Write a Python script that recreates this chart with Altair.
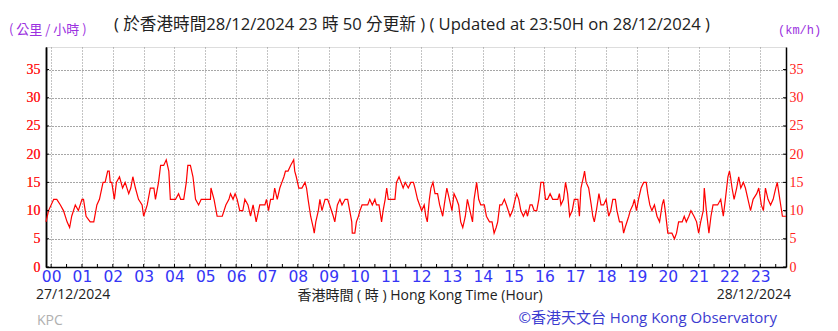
import altair as alt
import pandas as pd

# minutes from 00:00 on 28/12/2024 (negative = 27/12), 10-min mean wind speed km/h
minutes = [
    -10, -5, 5, 11, 18, 24, 31, 36, 40, 47, 53, 60, 63, 68, 76, 83, 89, 94, 101, 105,
    110, 113, 115, 118, 123, 127, 133, 139, 144, 151, 155, 159, 164, 170, 177, 180, 187, 193, 200, 203,
    209, 213, 219, 224, 229, 232, 242, 248, 252, 258, 263, 266, 271, 276, 281, 287, 292, 300, 310, 311,
    317, 323, 333, 340, 346, 349,
    354, 358, 362, 367, 373, 377, 383, 388, 393, 399, 406, 409, 416, 419, 423, 427, 432, 435, 440, 445,
    449, 453, 456, 461, 466, 472, 474, 477, 482, 488, 494, 497, 500, 505, 510, 512, 515, 520, 523, 527,
    533, 538, 542, 549, 552, 557, 562, 566, 572, 577, 581, 585, 586, 591, 594, 598, 601, 605, 611, 616,
    620, 625, 630, 633, 638, 643, 646, 650, 653, 656, 663, 669, 672, 677, 681, 685, 689, 695, 700, 705,
    708, 713,
    717, 721, 726, 729, 732, 736, 739, 743, 747, 752, 756, 762, 765, 770, 775, 780, 784, 789, 793, 797,
    801, 806, 810, 815, 820, 823, 828, 832, 836, 843, 847, 853, 858, 862, 866, 869, 873, 877, 882, 886,
    893, 898, 903, 906, 910, 914, 919, 924, 927, 932, 936, 940, 945, 949, 953, 958, 962, 966, 971, 976,
    981, 986, 989, 992, 997, 1001, 1005, 1009, 1014, 1018, 1025, 1028, 1031, 1036, 1038, 1041, 1046, 1051, 1054, 1057,
    1061, 1066,
    1070, 1075, 1080, 1085, 1089, 1093, 1098, 1101, 1106, 1111, 1114, 1117, 1124, 1127, 1132, 1135, 1139, 1143, 1148, 1153,
    1158, 1161, 1165, 1169, 1174, 1179, 1184, 1189, 1192, 1195, 1200, 1208, 1213, 1217, 1221, 1228, 1232, 1236, 1241, 1245,
    1251, 1256, 1260, 1264, 1269, 1271, 1275, 1280, 1284, 1288, 1293, 1297, 1303, 1308, 1312, 1317, 1320, 1322, 1325, 1329,
    1334, 1338, 1342, 1347, 1351, 1356, 1361, 1366, 1373, 1377, 1382, 1386, 1390, 1395, 1400, 1405, 1410, 1413, 1418, 1423,
    1430,
]
speeds = [
    8, 10, 12, 12, 11, 10, 8, 7, 9, 11, 10, 12, 12, 9, 8, 8, 11, 12, 15, 15,
    17, 17, 15, 15, 12, 15, 16, 14, 15, 13, 14, 16, 14, 12, 11, 9, 11, 14, 14, 12,
    15, 18, 18, 19, 17, 12, 12, 13, 12, 12, 15, 18, 18, 16, 12, 11, 12, 12, 12, 14,
    12, 9, 9, 11, 12, 13,
    12, 13, 12, 10, 10, 12, 11, 9, 11, 8, 11, 11, 11, 12, 10, 12, 12, 14, 12, 14,
    15, 16, 17, 17, 18, 19, 17, 16, 14, 14, 15, 14, 12, 9, 7, 6, 8, 10, 12, 10,
    12, 12, 11, 9, 8, 11, 12, 11, 12, 12, 10, 8, 6, 6, 8, 9, 10, 11, 11, 11,
    12, 11, 12, 11, 11, 8, 10, 12, 14, 12, 12, 12, 15, 16, 15, 14, 15, 14, 15, 15,
    14, 12,
    11, 10, 11, 9, 8, 12, 14, 15, 13, 13, 11, 9, 11, 14, 12, 10, 13, 12, 11, 8,
    7, 9, 12, 10, 8, 12, 15, 12, 11, 11, 9, 8, 8, 6, 7, 8, 11, 11, 12, 11,
    9, 10, 12, 13, 12, 10, 9, 10, 9, 11, 11, 10, 10, 12, 15, 15, 12, 12, 13, 12,
    12, 12, 13, 11, 12, 15, 13, 9, 10, 12, 12, 9, 14, 16, 17, 15, 14, 11, 9, 8,
    10, 13,
    11, 11, 12, 9, 10, 12, 12, 10, 8, 8, 6, 7, 9, 10, 11, 12, 10, 12, 14, 15,
    15, 13, 11, 10, 11, 9, 8, 11, 12, 10, 6, 6, 5, 6, 8, 8, 9, 8, 9, 10,
    9, 8, 6, 8, 10, 14, 10, 6, 9, 11, 11, 11, 12, 9, 12, 16, 17, 16, 14, 12,
    14, 16, 14, 15, 14, 12, 10, 12, 13, 14, 11, 10, 14, 12, 11, 12, 14, 15, 12, 9,
    9,
]
hour_ticks = list(range(0, 1440, 60))
half_ticks = list(range(0, 1440, 30))
y_ticks = [0, 5, 10, 15, 20, 25, 30, 35]

W, H = 740, 220
df = pd.DataFrame({"t": minutes, "v": speeds})
xs = alt.Scale(domain=[-10, 1430], nice=False, zero=False)
ys = alt.Scale(domain=[0, 39], nice=False)

hour_label = "(datum.value/60 < 10 ? '0' : '') + (datum.value/60)"
grid_dash = [1, 2]

x_axis = alt.Axis(
    values=hour_ticks, labelExpr=hour_label, title=None, orient="bottom",
    labelColor="#3535f5", labelFont="DejaVu Sans", labelFontSize=15.5, labelPadding=2,
    tickSize=0, domainColor="#000000", domainWidth=1.5,
    grid=True, gridColor="#888888", gridDash=grid_dash, gridWidth=1)
y_left = alt.Axis(
    values=y_ticks, title=None, orient="left",
    labelColor="#ff2020", labelFont="Liberation Sans Narrow", labelFontSize=14, labelPadding=6,
    tickSize=0, domainColor="#000000", domainWidth=1.5,
    grid=True, gridColor="#888888", gridDash=grid_dash, gridWidth=1)
y_right = alt.Axis(
    values=y_ticks, title=None, orient="right",
    labelColor="#ff2020", labelFont="Liberation Sans Narrow", labelFontSize=14, labelPadding=3,
    tickSize=0, domainColor="#000000", domainWidth=1.5, grid=False)

line = alt.Chart(df).mark_line(color="#ff0000", strokeWidth=1.2, interpolate="linear").encode(
    x=alt.X("t:Q", scale=xs, axis=x_axis),
    y=alt.Y("v:Q", scale=ys, axis=y_left),
)

ydf = pd.DataFrame({"yv": y_ticks})
right_ticks = alt.Chart(ydf).mark_rule(color="#000000").encode(
    y=alt.Y("yv:Q", scale=ys, axis=y_right),
    x=alt.value(W - 3), x2=alt.value(W),
)
left_ticks = alt.Chart(ydf).mark_rule(color="#000000").encode(
    y=alt.Y("yv:Q", scale=ys, axis=y_left), x=alt.value(0), x2=alt.value(3),
)
xdf = pd.DataFrame({"xt": half_ticks})
bottom_ticks = alt.Chart(xdf).mark_rule(color="#000000").encode(
    x=alt.X("xt:Q", scale=xs, axis=x_axis), y=alt.value(H - 3), y2=alt.value(H),
)

one = alt.Data(values=[{}])


def txt(s, x, y, color, size, font, align="left", baseline="middle"):
    return alt.Chart(one).mark_text(
        text=s, color=color, fontSize=size, font=font, align=align, baseline=baseline
    ).encode(x=alt.value(x), y=alt.value(y))


CJK = "Open Sans, Noto Sans CJK TC"
texts = [
    txt("( 於香港時間28/12/2024 23 時 50 分更新 ) ( Updated at 23:50H on 28/12/2024 )",
        366, -22, "#222222", 16.6, CJK, align="center"),
    txt("( 公里 / 小時 )", -37, -17, "#9b30e0", 13, "Noto Sans CJK TC"),
    txt("(km/h)", 732, -17, "#9b30e0", 12, "Liberation Mono"),
    txt("27/12/2024", -10, 248, "#222222", 14, "Open Sans"),
    txt("香港時間 ( 時 ) Hong Kong Time (Hour)", 374, 249, "#222222", 14, CJK, align="center"),
    txt("28/12/2024", 745, 248, "#222222", 14, "Open Sans", align="right"),
    txt("KPC", -9, 274, "#b0b0b0", 14, "Open Sans"),
    txt("©香港天文台 Hong Kong Observatory", 731, 271, "#3b3bd0", 15, CJK, align="right"),
]

chart = alt.layer(line, left_ticks, bottom_ticks, right_ticks, *texts).resolve_axis(
    y="independent"
).properties(
    width=W, height=H,
    autosize=alt.AutoSizeParams(type="none"),
    padding={"left": 46, "top": 47, "right": 52, "bottom": 64},
).configure_view(stroke=None).configure(background="#ffffff")

chart.save("out.html", embed_options={"renderer": "svg", "actions": False})
